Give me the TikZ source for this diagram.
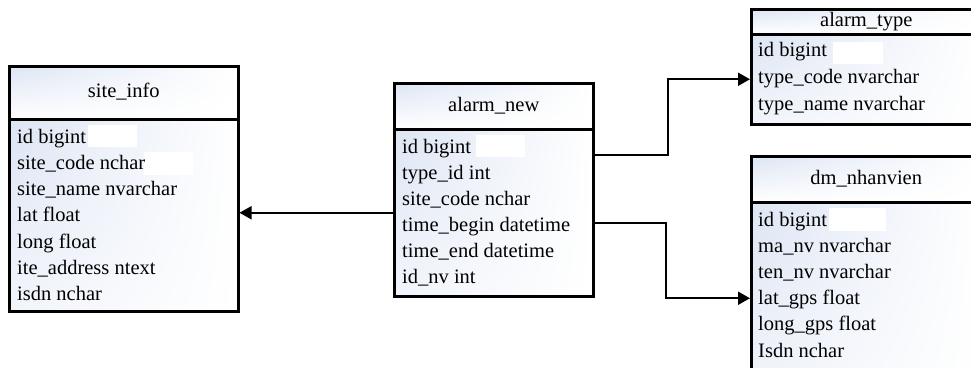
\documentclass[tikz,border=0pt]{standalone}
\usepackage{fontspec}
\setmainfont{Liberation Serif}
\usetikzlibrary{arrows.meta,shadings}

\definecolor{tableblue}{HTML}{DDE5F4}
\newcommand{\tablefont}{\fontsize{20.5pt}{24pt}\selectfont}

\tikzset{
  tablehead/.style={draw, line width=2.5pt,
    upper left=tableblue, upper right=white, lower left=white, lower right=white,
    anchor=north west, inner sep=0pt, text height=14pt, text depth=4pt, font=\tablefont},
  tablebody/.style={draw, line width=2.5pt,
    upper left=tableblue, upper right=white, lower left=tableblue!40!white, lower right=white,
    anchor=north west, inner sep=0pt},
  field/.style={anchor=base west, inner sep=0pt, font=\tablefont},
  link/.style={line width=2pt, -{Triangle[length=12pt, width=13pt]}},
}

\begin{document}
\begin{tikzpicture}[x=1pt, y=-1pt]

  \useasboundingbox (0,0) rectangle (971,367);
  \clip (0,0) rectangle (971,367);

  % site_info
  \def\siteleft{8}
  \node[tablehead, minimum width=229pt, minimum height=53pt] (siteinfo-head) at (\siteleft, 65) {site\_info};
  \node[tablebody, minimum width=229pt, minimum height=192pt] (siteinfo) at (\siteleft, 118) {};
  \fill[white] (88,125) rectangle (137,147);
  \fill[white] (144,152) rectangle (193,175);
  \node[field] (siteinfo-1) at ({\siteleft + 9}, {143 + 0*26.3}) {id bigint};
  \node[field] (siteinfo-2) at ({\siteleft + 9}, {143 + 1*26.3}) {site\_code nchar};
  \node[field] (siteinfo-3) at ({\siteleft + 9}, {143 + 2*26.3}) {site\_name nvarchar};
  \node[field] (siteinfo-4) at ({\siteleft + 9}, {143 + 3*26.3}) {lat float};
  \node[field] (siteinfo-5) at ({\siteleft + 9}, {143 + 4*26.3}) {long float};
  \node[field] (siteinfo-6) at ({\siteleft + 9}, {143 + 5*26.3}) {ite\_address ntext};
  \node[field] (siteinfo-7) at ({\siteleft + 9}, {143 + 6*26.3}) {isdn nchar};

  % alarm_new
  \def\newleft{393}
  \node[tablehead, minimum width=199pt, minimum height=46pt] (alarmnew-head) at (\newleft, 82) {alarm\_new};
  \node[tablebody, minimum width=199pt, minimum height=167pt] (alarmnew) at (\newleft, 128) {};
  \fill[white] (476,135) rectangle (525,157);
  \node[field] (alarmnew-1) at ({\newleft + 9}, {153 + 0*26}) {id bigint};
  \node[field] (alarmnew-2) at ({\newleft + 9}, {153 + 1*26}) {type\_id int};
  \node[field] (alarmnew-3) at ({\newleft + 9}, {153 + 2*26}) {site\_code nchar};
  \node[field] (alarmnew-4) at ({\newleft + 9}, {153 + 3*26}) {time\_begin datetime};
  \node[field] (alarmnew-5) at ({\newleft + 9}, {153 + 4*26}) {time\_end datetime};
  \node[field] (alarmnew-6) at ({\newleft + 9}, {153 + 5*26}) {id\_nv int};

  % alarm_type
  \def\typeleft{750}
  \node[tablehead, minimum width=230pt, minimum height=25pt] (alarmtype-head) at (\typeleft, 8) {alarm\_type};
  \node[tablebody, minimum width=230pt, minimum height=90pt] (alarmtype) at (\typeleft, 33) {};
  \fill[white] (833,42) rectangle (883,64);
  \node[field] (alarmtype-1) at ({\typeleft + 8}, {56 + 0*27}) {id bigint};
  \node[field] (alarmtype-2) at ({\typeleft + 8}, {56 + 1*27}) {type\_code nvarchar};
  \node[field] (alarmtype-3) at ({\typeleft + 8}, {56 + 2*27}) {type\_name nvarchar};

  % dm_nhanvien
  \def\nvleft{750}
  \node[tablehead, minimum width=230pt, minimum height=46pt] (dmnhanvien-head) at (\nvleft, 155) {dm\_nhanvien};
  \node[tablebody, minimum width=230pt, minimum height=192pt] (dmnhanvien) at (\nvleft, 201) {};
  \fill[white] (829,208) rectangle (886,231);
  \node[field] (dmnhanvien-1) at ({\nvleft + 8}, {226 + 0*26.2}) {id bigint};
  \node[field] (dmnhanvien-2) at ({\nvleft + 8}, {226 + 1*26.2}) {ma\_nv nvarchar};
  \node[field] (dmnhanvien-3) at ({\nvleft + 8}, {226 + 2*26.2}) {ten\_nv nvarchar};
  \node[field] (dmnhanvien-4) at ({\nvleft + 8}, {226 + 3*26.2}) {lat\_gps float};
  \node[field] (dmnhanvien-5) at ({\nvleft + 8}, {226 + 4*26.2}) {long\_gps float};
  \node[field] (dmnhanvien-6) at ({\nvleft + 8}, {226 + 5*26.2}) {Isdn nchar};

  % Links
  \draw[link] (alarmnew.west) -- (alarmnew.west -| siteinfo.east);
  \draw[link] ([yshift=58pt]alarmnew.east) -- ++(73,0) |- (alarmtype.west);
  \draw[link] ([yshift=-10pt]alarmnew.east) -- ++(71,0) |- (dmnhanvien.west);

\end{tikzpicture}
\end{document}
